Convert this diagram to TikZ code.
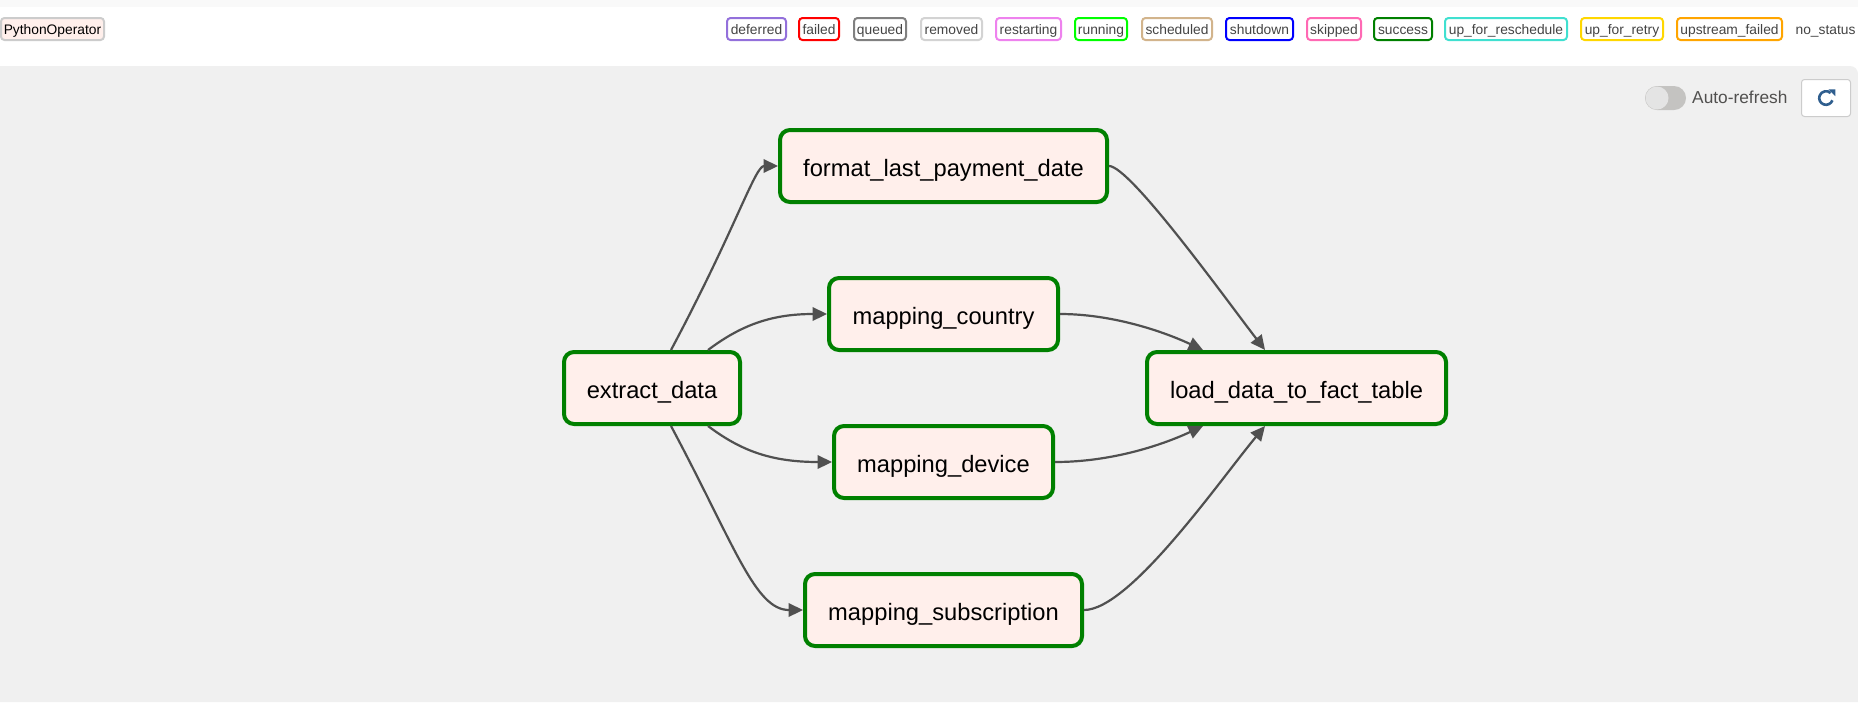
\documentclass[tikz,border=0pt]{standalone}
\usepackage{fontspec}
\setmainfont{Liberation Sans}
\usetikzlibrary{arrows.meta,calc}
\definecolor{taskfill}{HTML}{FFEFEB}
\definecolor{taskborder}{HTML}{008000}
\definecolor{edgecol}{HTML}{505050}
\definecolor{bggray}{HTML}{F0F0F0}
\definecolor{topstrip}{HTML}{F9F9F9}
\definecolor{legtext}{HTML}{444444}
\definecolor{cdeferred}{HTML}{9370DB}
\definecolor{cfailed}{HTML}{FF0000}
\definecolor{cqueued}{HTML}{808080}
\definecolor{cremoved}{HTML}{D3D3D3}
\definecolor{crestarting}{HTML}{EE82EE}
\definecolor{crunning}{HTML}{00FF00}
\definecolor{cscheduled}{HTML}{D2B48C}
\definecolor{cshutdown}{HTML}{0000FF}
\definecolor{cskipped}{HTML}{FF69B4}
\definecolor{csuccess}{HTML}{008000}
\definecolor{creschedule}{HTML}{40E0D0}
\definecolor{cretry}{HTML}{FFD700}
\definecolor{cupstream}{HTML}{FFA500}
\definecolor{opborder}{HTML}{CCCCCC}
\definecolor{autotext}{HTML}{51504F}
\definecolor{pillgray}{HTML}{C4C3C1}
\definecolor{knobgray}{HTML}{E4E4E4}
\definecolor{iconcol}{HTML}{2F5E8E}
\definecolor{btnborder}{HTML}{CCCCCC}
\begin{document}
\begin{tikzpicture}[x=1pt,y=-1pt,
  task/.style={draw=taskborder, fill=taskfill, line width=4pt, rounded corners=10pt,
    minimum height=72pt, inner sep=0pt, text=black,
    font=\fontsize{23.7}{28}\selectfont, text height=21pt, text depth=1pt},
  conn/.style={draw=edgecol, line width=2.2pt, -{Triangle[length=14.5pt,width=13.5pt]}},
  lg/.style={line width=2pt, rounded corners=3.5pt, fill=white, minimum height=22pt,
    inner sep=0pt, text=legtext, font=\fontsize{13.8}{16}\selectfont,
    text height=10pt, text depth=0pt}
]
\useasboundingbox (0,0) rectangle (1858,702);
% backgrounds
\fill[white] (0,0) rectangle (1858,702);
\fill[topstrip] (0,0) rectangle (1858,7);
\fill[bggray] (0,66) -- (1850,66) arc[start angle=-90, end angle=0, radius=8] -- (1858,702) -- (0,702) -- cycle;

% operator legend
\node[draw=opborder, fill=taskfill, line width=2pt, rounded corners=3.5pt, minimum width=103pt,
  minimum height=22pt, inner sep=0pt, text=black, font=\fontsize{13.8}{16}\selectfont,
  text height=10pt, text depth=0pt] (op) at (52.5,29) {PythonOperator};

% state legend
\node[lg, draw=cdeferred, minimum width=59pt] (s1) at (756.5,29) {deferred};
\node[lg, draw=cfailed, minimum width=40pt] (s2) at (819,29) {failed};
\node[lg, draw=cqueued, minimum width=52pt] (s3) at (880,29) {queued};
\node[lg, draw=cremoved, minimum width=61pt] (s4) at (951.5,29) {removed};
\node[lg, draw=crestarting, minimum width=65pt] (s5) at (1028.5,29) {restarting};
\node[lg, draw=crunning, minimum width=52pt] (s6) at (1101,29) {running};
\node[lg, draw=cscheduled, minimum width=70pt] (s7) at (1177,29) {scheduled};
\node[lg, draw=cshutdown, minimum width=67pt] (s8) at (1259.5,29) {shutdown};
\node[lg, draw=cskipped, minimum width=54pt] (s9) at (1334,29) {skipped};
\node[lg, draw=csuccess, minimum width=58pt] (s10) at (1403,29) {success};
\node[lg, draw=creschedule, minimum width=122pt] (s11) at (1506,29) {up\_for\_reschedule};
\node[lg, draw=cretry, minimum width=82pt] (s12) at (1622,29) {up\_for\_retry};
\node[lg, draw=cupstream, minimum width=105pt] (s13) at (1729.5,29) {upstream\_failed};
\node[inner sep=0pt, text=legtext, font=\fontsize{13.8}{16}\selectfont,
  text height=10pt, text depth=0pt, minimum height=22pt] (s14) at (1825.5,29) {no\_status};

% auto-refresh toggle
\fill[pillgray, rounded corners=12pt] (1645,86) rectangle (1686,110);
\fill[knobgray] (1657,98) circle (11.5);
\node[anchor=base west, inner sep=0pt, text=autotext, font=\fontsize{17.3}{20}\selectfont] (auto) at (1692,103) {Auto-refresh};

% refresh button
\node[draw=btnborder, fill=white, line width=1pt, rounded corners=3pt, minimum width=49pt,
  minimum height=37pt, inner sep=0pt] (btn) at (1826,98) {};
\begin{scope}[shift={(btn.center)}, yscale=-1]
  \draw[iconcol, line width=2.6pt] (-20:6.8) arc[start angle=-20, end angle=-312, radius=6.8];
  \fill[iconcol] (2.6,8.6) -- (9.3,8.6) -- (9.3,1.9) -- cycle;
\end{scope}

% task nodes
\node[task, minimum width=327pt] (fmt) at (943.5,166) {format\_last\_payment\_date};
\node[task, minimum width=229pt] (cty) at (943.5,314) {mapping\_country};
\node[task, minimum width=176pt] (ext) at (652,388) {extract\_data};
\node[task, minimum width=219pt] (dev) at (943.5,462) {mapping\_device};
\node[task, minimum width=277pt] (sub) at (943.5,610) {mapping\_subscription};
\node[task, minimum width=299pt] (load) at (1296.5,388) {load\_data\_to\_fact\_table};

% edges from extract_data
\draw[conn] ([xshift=19pt]ext.north) .. controls (735,230) and (755,166) .. (fmt.west);
\draw[conn] ([xshift=56pt]ext.north) .. controls (740,326) and (770,314) .. (cty.west);
\draw[conn] ([xshift=56pt]ext.south) .. controls (740,450) and (770,462) .. (dev.west);
\draw[conn] ([xshift=19pt]ext.south) .. controls (735,546) and (755,610) .. (sub.west);

% edges into load_data_to_fact_table
\draw[conn] (fmt.east) .. controls (1130,166) and (1225,298) .. ([xshift=-31.5pt]load.north);
\draw[conn] (cty.east) .. controls (1110,314) and (1160,330) .. ([xshift=-93.5pt]load.north);
\draw[conn] (dev.east) .. controls (1110,462) and (1160,446) .. ([xshift=-93.5pt]load.south);
\draw[conn] (sub.east) .. controls (1130,610) and (1220,480) .. ([xshift=-31.5pt]load.south);
\end{tikzpicture}
\end{document}
